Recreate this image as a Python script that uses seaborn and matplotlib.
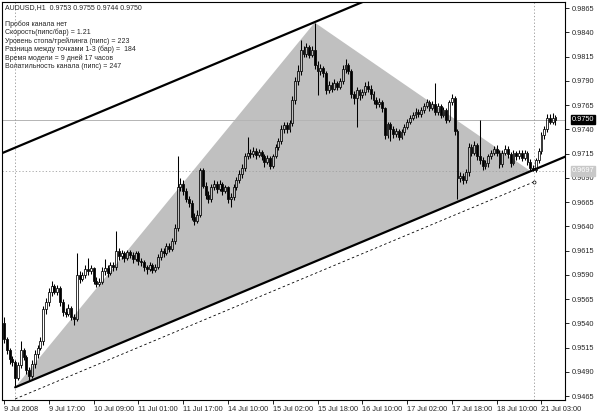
import numpy as np
import pandas as pd
import matplotlib
matplotlib.use('Agg')
import matplotlib.pyplot as plt
import matplotlib.transforms as mtransforms
import seaborn as sns

# AUDUSD H1 bars, prices in pips (x 0.0001)
opens = [9540, 9524, 9512, 9503, 9500, 9484, 9497, 9512, 9505, 9492,
         9486, 9498, 9508, 9515, 9522, 9555, 9562, 9572, 9578, 9572,
         9576, 9562, 9552, 9550, 9556, 9546, 9544, 9590, 9586, 9590,
         9596, 9594, 9597, 9584, 9580, 9583, 9594, 9597, 9592, 9600,
         9598, 9615, 9609, 9612, 9607, 9613, 9610, 9606, 9612, 9604,
         9603, 9598, 9596, 9600, 9595, 9598, 9608, 9615, 9612, 9620,
         9617, 9625, 9638, 9680, 9684, 9676, 9668, 9664, 9650, 9645,
         9652, 9698, 9682, 9672, 9668, 9680, 9684, 9678, 9684, 9676,
         9680, 9668, 9670, 9680, 9688, 9694, 9700, 9712, 9716, 9714,
         9718, 9713, 9717, 9712, 9706, 9710, 9702, 9712, 9722, 9728,
         9740, 9744, 9740, 9746, 9770, 9790, 9800, 9822, 9818, 9825,
         9817, 9822, 9806, 9800, 9803, 9798, 9780, 9786, 9782, 9788,
         9784, 9790, 9802, 9806, 9800, 9776, 9772, 9780, 9775, 9778,
         9785, 9782, 9776, 9770, 9766, 9768, 9762, 9734, 9745, 9740,
         9735, 9738, 9732, 9737, 9742, 9748, 9752, 9755, 9758, 9756,
         9760, 9764, 9768, 9762, 9766, 9758, 9764, 9755, 9760, 9750,
         9768, 9772, 9738, 9690, 9692, 9688, 9696, 9722, 9716, 9724,
         9712, 9708, 9702, 9705, 9712, 9716, 9720, 9716, 9704, 9716,
         9720, 9714, 9705, 9716, 9712, 9716, 9710, 9716, 9706, 9700,
         9698, 9708, 9718, 9734, 9740, 9752, 9748, 9753]
highs = [9546, 9526, 9515, 9506, 9502, 9500, 9522, 9514, 9507, 9495,
         9502, 9512, 9518, 9526, 9558, 9566, 9576, 9584, 9580, 9579,
         9578, 9565, 9556, 9560, 9558, 9550, 9612, 9594, 9593, 9600,
         9607, 9600, 9598, 9588, 9587, 9598, 9606, 9600, 9603, 9603,
         9635, 9618, 9616, 9614, 9616, 9616, 9613, 9615, 9614, 9607,
         9605, 9600, 9603, 9602, 9601, 9611, 9618, 9618, 9623, 9623,
         9628, 9642, 9712, 9690, 9688, 9679, 9671, 9667, 9654, 9657,
         9700, 9700, 9686, 9676, 9684, 9688, 9687, 9688, 9686, 9683,
         9682, 9674, 9684, 9691, 9698, 9704, 9716, 9732, 9720, 9722,
         9721, 9720, 9719, 9714, 9713, 9712, 9715, 9725, 9731, 9744,
         9748, 9747, 9750, 9774, 9794, 9806, 9832, 9826, 9829, 9827,
         9826, 9850, 9810, 9807, 9805, 9800, 9790, 9789, 9792, 9790,
         9793, 9806, 9812, 9808, 9802, 9779, 9784, 9782, 9781, 9789,
         9790, 9786, 9779, 9773, 9772, 9770, 9763, 9748, 9748, 9743,
         9741, 9740, 9740, 9745, 9751, 9755, 9758, 9762, 9761, 9763,
         9767, 9771, 9770, 9769, 9788, 9767, 9766, 9763, 9762, 9770,
         9776, 9774, 9740, 9696, 9695, 9699, 9726, 9725, 9728, 9726,
         9750, 9711, 9708, 9715, 9719, 9723, 9724, 9719, 9719, 9724,
         9723, 9717, 9719, 9718, 9719, 9719, 9719, 9718, 9709, 9703,
         9710, 9721, 9737, 9743, 9756, 9756, 9757, 9755]
lows = [9520, 9508, 9498, 9496, 9474, 9482, 9494, 9502, 9488, 9480,
        9484, 9494, 9504, 9512, 9518, 9550, 9558, 9568, 9570, 9569,
        9558, 9548, 9546, 9547, 9543, 9538, 9542, 9582, 9584, 9587,
        9590, 9591, 9581, 9577, 9578, 9580, 9590, 9588, 9590, 9594,
        9595, 9605, 9606, 9603, 9605, 9607, 9602, 9604, 9600, 9599,
        9594, 9591, 9594, 9592, 9593, 9596, 9605, 9608, 9610, 9613,
        9614, 9622, 9635, 9676, 9672, 9665, 9660, 9646, 9641, 9643,
        9650, 9679, 9668, 9664, 9665, 9677, 9674, 9676, 9672, 9674,
        9664, 9660, 9667, 9677, 9685, 9690, 9697, 9709, 9710, 9711,
        9709, 9711, 9708, 9701, 9704, 9699, 9700, 9710, 9719, 9725,
        9736, 9736, 9737, 9743, 9766, 9786, 9796, 9814, 9815, 9813,
        9814, 9802, 9775, 9796, 9794, 9776, 9777, 9778, 9780, 9780,
        9781, 9787, 9798, 9797, 9772, 9766, 9742, 9770, 9772, 9775,
        9778, 9771, 9766, 9762, 9763, 9758, 9730, 9731, 9728, 9731,
        9732, 9729, 9730, 9734, 9740, 9745, 9750, 9752, 9753, 9753,
        9757, 9762, 9759, 9760, 9755, 9755, 9752, 9753, 9746, 9748,
        9765, 9734, 9668, 9686, 9684, 9685, 9692, 9712, 9713, 9708,
        9704, 9698, 9699, 9701, 9709, 9713, 9712, 9700, 9701, 9713,
        9710, 9701, 9703, 9708, 9709, 9707, 9708, 9703, 9697, 9697,
        9696, 9705, 9715, 9730, 9737, 9745, 9745, 9744]
closes = [9524, 9512, 9503, 9500, 9484, 9497, 9512, 9505, 9492, 9486,
          9498, 9508, 9515, 9522, 9555, 9562, 9572, 9578, 9572, 9576,
          9562, 9552, 9550, 9556, 9546, 9544, 9590, 9586, 9590, 9596,
          9594, 9597, 9584, 9580, 9583, 9594, 9597, 9592, 9600, 9598,
          9615, 9609, 9612, 9607, 9613, 9610, 9606, 9612, 9604, 9603,
          9598, 9596, 9600, 9595, 9598, 9608, 9615, 9612, 9620, 9617,
          9625, 9638, 9680, 9684, 9676, 9668, 9664, 9650, 9645, 9652,
          9698, 9682, 9672, 9668, 9680, 9684, 9678, 9684, 9676, 9680,
          9668, 9670, 9680, 9688, 9694, 9700, 9712, 9716, 9714, 9718,
          9713, 9717, 9712, 9706, 9710, 9702, 9712, 9722, 9728, 9740,
          9744, 9740, 9746, 9770, 9790, 9800, 9822, 9818, 9825, 9817,
          9822, 9806, 9800, 9803, 9798, 9780, 9786, 9782, 9788, 9784,
          9790, 9802, 9806, 9800, 9776, 9772, 9780, 9775, 9778, 9785,
          9782, 9776, 9770, 9766, 9768, 9762, 9734, 9745, 9740, 9735,
          9738, 9732, 9737, 9742, 9748, 9752, 9755, 9758, 9756, 9760,
          9764, 9768, 9762, 9766, 9758, 9764, 9755, 9760, 9750, 9768,
          9772, 9738, 9690, 9692, 9688, 9696, 9722, 9716, 9724, 9712,
          9708, 9702, 9705, 9712, 9716, 9720, 9716, 9704, 9716, 9720,
          9714, 9705, 9716, 9712, 9716, 9710, 9716, 9706, 9700, 9698,
          9708, 9718, 9734, 9740, 9752, 9748, 9752, 9750]

time_ticks = [0, 16, 32, 48, 64, 80, 96, 112, 128, 144, 160, 176, 192]
time_labels = ['9 Jul 2008', '9 Jul 17:00', '10 Jul 09:00', '11 Jul 01:00',
               '11 Jul 17:00', '14 Jul 10:00', '15 Jul 02:00', '15 Jul 18:00',
               '16 Jul 10:00', '17 Jul 02:00', '17 Jul 18:00', '18 Jul 10:00',
               '21 Jul 03:00']
price_ticks = [0.9465, 0.9490, 0.9515, 0.9540, 0.9565, 0.9590, 0.9615, 0.9640,
               0.9665, 0.9690, 0.9715, 0.9740, 0.9765, 0.9790, 0.9815, 0.9840,
               0.9865]

# model points 1-2-3 and channel lines (bar index, price)
point_bars = [4, 111, 188]
point_prices = [0.9474, 0.9850, 0.9697]
lower_x = [4, 201]
lower_y = [0.9474, 0.97124]
upper_x = [-1, 201]
upper_y = [0.97150, 0.99594]
dashed_x = [4, 189.5]
dashed_y = [0.9462, 0.9686]
marker_bars = [4, 189.5]
bid = 0.9750
level3 = 0.9697

header = 'AUDUSD,H1  0.9753 0.9755 0.9744 0.9750'
info_lines = ['Пробоя канала нет',
              'Скорость(пипс/бар) = 1.21',
              'Уровень стопа/трейлинга (пипс) = 223',
              'Разница между точками 1-3 (бар) =  184',
              'Время модели = 9 дней 17 часов',
              'Волатильность канала (пипс) = 247']

df = pd.DataFrame({'open': opens, 'high': highs, 'low': lows, 'close': closes}) / 10000
df['bar'] = np.arange(len(df))
up = df['close'] >= df['open']
body_lo = df[['open', 'close']].min(axis=1)
body_hi = df[['open', 'close']].max(axis=1)

sns.set_style('white')
plt.rcParams['font.family'] = ['Liberation Sans', 'DejaVu Sans']

fig = plt.figure(figsize=(6, 4.19), dpi=100)
ax = fig.add_axes([2 / 600, 19 / 419, 563 / 600, 398 / 419])

# triangle of the model
ax.fill(point_bars, point_prices, color='#c0c0c0', lw=0, zorder=0)

# guide lines
ax.axhline(bid, color='#b4b4b4', lw=0.7, zorder=1)
ax.axhline(level3, color='#a0a0a0', lw=0.6, ls=(0, (1.5, 2.5)), zorder=1)
for b in marker_bars:
    ax.axvline(b, color='#909090', lw=0.6, ls=(0, (1.5, 2.5)), zorder=1)

# candles
ax.vlines(df['bar'], df['low'], body_lo, color='black', lw=0.75, zorder=2)
ax.vlines(df['bar'], body_hi, df['high'], color='black', lw=0.75, zorder=2)
ax.bar(df['bar'][up], (body_hi - body_lo)[up], bottom=body_lo[up], width=0.7,
       facecolor='none', edgecolor='black', lw=0.55, zorder=3)
ax.bar(df['bar'][~up], (body_hi - body_lo)[~up], bottom=body_lo[~up], width=0.7,
       facecolor='black', edgecolor='black', lw=0.55, zorder=3)

# channel
sns.lineplot(x=lower_x, y=lower_y, ax=ax, color='black', lw=1.6, zorder=4)
sns.lineplot(x=upper_x, y=upper_y, ax=ax, color='black', lw=1.6, zorder=4)
sns.lineplot(x=dashed_x, y=dashed_y, ax=ax, color='black', lw=0.6,
             ls=(0, (3, 3)), zorder=4)
ax.plot(dashed_x[-1:], dashed_y[-1:], marker='o', ms=2.2, mfc='white',
        mec='black', mew=0.5, zorder=5)

ax.set_xlim(-0.7, 200.4)
ax.set_ylim(0.94609, 0.98712)

ax.yaxis.tick_right()
ax.set_yticks(price_ticks)
ax.set_yticklabels([f'{p:.4f}' for p in price_ticks], fontsize=5.3)
ax.set_xticks(time_ticks)
ax.set_xticklabels(time_labels, fontsize=5.3)
for lab in ax.get_xticklabels():
    lab.set_horizontalalignment('left')
ax.tick_params(axis='both', length=3, width=0.6, color='black', pad=1.5)
ax.tick_params(axis='y', right=True, left=False)
ax.tick_params(axis='x', bottom=True)
for s in ax.spines.values():
    s.set_color('black')
    s.set_linewidth(0.8)

# price labels on the axis
tr = mtransforms.blended_transform_factory(ax.transAxes, ax.transData)
ax.text(1.012, bid, f'{bid:.4f}', transform=tr, fontsize=5.3, color='white',
        va='center', ha='left',
        bbox=dict(boxstyle='square,pad=0.15', fc='black', ec='black'))
ax.text(1.012, level3, f'{level3:.4f}', transform=tr, fontsize=5.3, color='white',
        va='center', ha='left',
        bbox=dict(boxstyle='square,pad=0.15', fc='#c8c8c8', ec='#c8c8c8'))

# info text
ax.text(0.006, 0.985, header, transform=ax.transAxes, fontsize=5, va='center')
for k, line in enumerate(info_lines):
    ax.text(0.006, 0.945 - k * 0.0215, line, transform=ax.transAxes,
            fontsize=5, va='center')

fig.savefig('out.png', dpi=100)
